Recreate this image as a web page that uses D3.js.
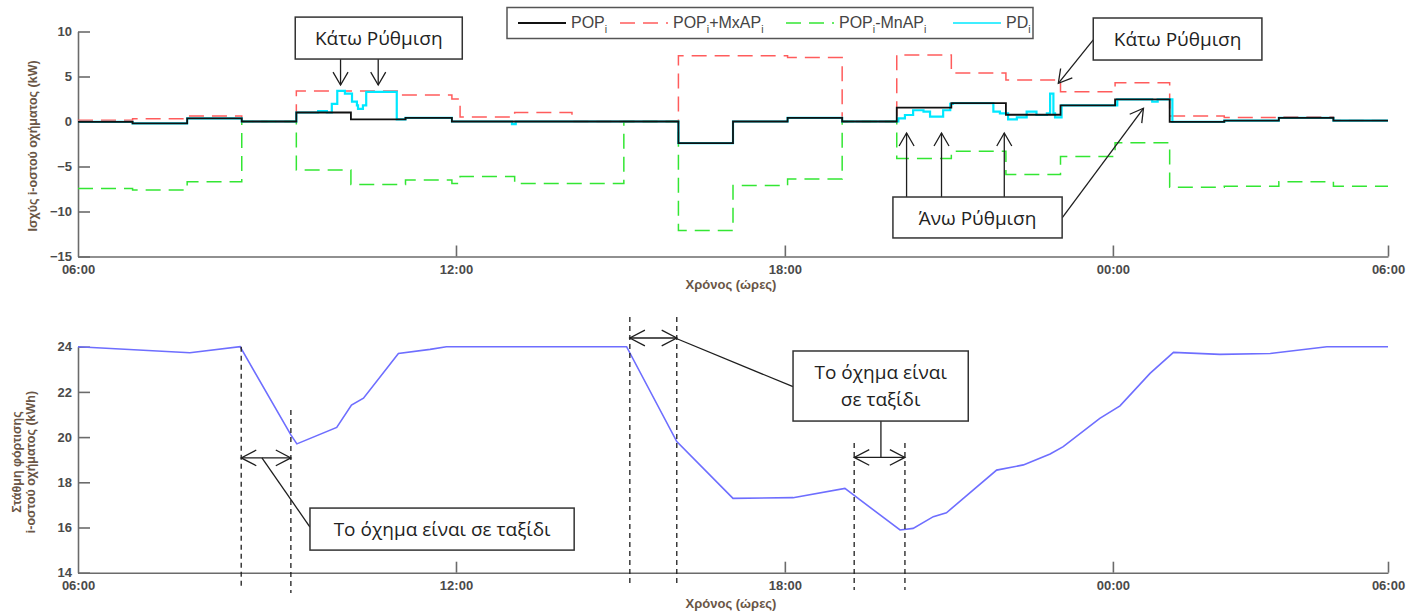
<!DOCTYPE html>
<html><head><meta charset="utf-8">
<script src="https://cdn.jsdelivr.net/npm/d3@7"></script>
<style>
html,body{margin:0;padding:0;background:#fff;}
svg{display:block;}
</style></head>
<body>
<svg id="chart" width="1426" height="615"></svg>
<script>
// ---------------- DATA ----------------
// time in hours since 06:00 (hour index on the plotted axis)
const xTickPos    = [0, 6.925, 12.95, 18.96, 24];
const xTickLabels = ["06:00", "12:00", "18:00", "00:00", "06:00"];
const yTopTicks   = [10, 5, 0, -5, -10, -15];
const yBotTicks   = [24, 22, 20, 18, 16, 14];

// POP_i (black) — step values [start hour, kW]
const popSteps = [[0,-0.05],[1,-0.2],[2,0.35],[3,0],[4,1.0],[5,0.24],[6,0.4],[6.85,0],
  [11,-2.4],[12,0],[13,0.4],[14,0],[15,1.55],[16,2.05],[17,0.75],[18,1.8],[19,2.45],
  [20,-0.05],[21,0.1],[22,0.4],[23,0.1],[24,0.1]];
// POP_i + MxAP_i (red dashed)
const maxSteps = [[0,0.15],[1,0.3],[2,0.6],[3,0],[4,3.4],[5.9,2.95],[6.85,2.5],[7,0.5],[8,1.0],
  [9.05,0],[11,7.3],[13,7.1],[14,0],[15,7.4],[16,5.4],[17,4.6],[18,3.3],[19,4.3],
  [20,0.6],[21,0.45],[22,0.5],[23,0.1],[24,0.1]];
// POP_i - MnAP_i (green dashed)
const minSteps = [[0,-7.45],[1,-7.6],[2,-6.7],[3,0],[4,-5.4],[5,-7.0],[6,-6.5],[6.85,-6.9],[7,-6.1],
  [8,-6.9],[10,0],[11,-12.1],[12,-7.1],[13,-6.4],[14,0],[15,-4.1],[16,-3.3],[17,-5.9],
  [18,-3.9],[19,-2.35],[20,-7.3],[21,-7.2],[22,-6.7],[23,-7.2],[24,-7.2]];
// PD_i (cyan)
const pdSteps = [[0,-0.05],[1,-0.2],[2,0.35],[3,0],[4,1.0],[4.4,1.15],[4.56,1.0],[4.65,1.95],
  [4.75,3.4],[4.89,3.1],[5.02,2.2],[5.11,1.8],[5.13,1.4],[5.22,1.8],[5.28,3.3],[5.84,0.24],
  [6,0.4],[6.85,0],[7.95,-0.3],[8.02,0],[11,-2.4],[12,0],[13,0.4],[14,0],
  [15.03,0.35],[15.15,0.72],[15.3,1.25],[15.49,1.1],[15.61,0.54],[15.85,1.25],[15.98,1.95],
  [16.03,2.05],[16.77,1.1],[16.89,0.9],[17.04,0.24],[17.2,0.46],[17.38,1.1],[17.56,0.72],
  [17.75,0.9],[17.81,3.1],[17.87,0.9],[17.9,0.46],[18.02,1.8],[19.04,2.45],[19.68,2.2],
  [19.78,2.45],[20.05,-0.05],[21,0.1],[22,0.4],[23,0.1],[24,0.1]];
// state of charge (kWh)
const socPoints = [[0,24.0],[2.05,23.73],[2.97,24.0],[3.9,20.1],[4.01,19.7],[4.74,20.43],
  [5.01,21.42],[5.23,21.72],[5.87,23.7],[6.45,23.88],[6.75,24.0],[10.05,24.0],[10.97,19.8],
  [12.0,17.29],[13.1,17.32],[14.05,17.73],[15.06,15.89],[15.3,15.96],[15.67,16.48],
  [15.91,16.65],[16.83,18.54],[17.32,18.77],[17.81,19.25],[18.05,19.58],[18.72,20.83],
  [19.09,21.38],[19.64,22.82],[20.07,23.75],[20.92,23.66],[21.84,23.7],[22.88,24.0],[24,24.0]];
// trips: [start, end]
const trips = [[2.99, 3.9], [10.11, 10.97], [14.22, 15.15]];

const legendNames = [["POP","i"],["POP","i","+MxAP","i"],["POP","i","-MnAP","i"],["PD","i"]];
const seriesColors = ["#111111", "#ff5c5c", "#33e633", "#00e8ff"];

// ---------------- LAYOUT ----------------
const svg = d3.select("#chart");
const x = d3.scaleLinear().domain([0, 24]).range([78, 1388]);
const yTop = d3.scaleLinear().domain([-15, 10]).range([256.5, 31.5]);
const yBot = d3.scaleLinear().domain([14, 24]).range([572.7, 346.7]);

const tickFont = "'Liberation Sans', Arial, sans-serif";
const annFont = "'Open Sans', 'Noto Sans', sans-serif";
const axisColor = "#6b6b6b";

function styleAxis(g) {
  g.select(".domain").attr("stroke", axisColor).attr("stroke-width", 1.6);
  g.selectAll(".tick line").attr("stroke", axisColor).attr("stroke-width", 1.6);
  g.selectAll(".tick text").attr("fill", "#4a4a4a").style("font-family", tickFont)
    .style("font-size", "13px").style("font-weight", "bold");
}

function drawAxes(yScale, yTicks, yAxisY) {
  const gy = svg.append("g").attr("transform", "translate(78,0)")
    .call(d3.axisLeft(yScale).tickValues(yTicks).tickSize(-12).tickSizeOuter(0).tickPadding(6));
  styleAxis(gy);
  const gx = svg.append("g").attr("transform", `translate(0,${yAxisY})`)
    .call(d3.axisBottom(x).tickValues(xTickPos).tickFormat((d, i) => xTickLabels[i])
      .tickSize(-11).tickSizeOuter(0).tickPadding(8));
  styleAxis(gx);
  gx.selectAll(".tick").filter((d, i) => i === 0).select("line").remove();
}

drawAxes(yTop, yTopTicks, yTop(-15));
drawAxes(yBot, yBotTicks, yBot(14));

const labelColor = "#6a5646";
function axisLabel(txt, px, py, rot, size) {
  svg.append("text").attr("x", px).attr("y", py).attr("text-anchor", "middle")
    .attr("transform", rot ? `rotate(-90,${px},${py})` : null)
    .style("font-family", tickFont).style("font-size", size + "px").style("font-weight", "bold")
    .attr("fill", labelColor).text(txt);
}
axisLabel("Χρόνος (ώρες)", 731, 289, false, 13);
axisLabel("Χρόνος (ώρες)", 731, 608, false, 13);
axisLabel("Ισχύς i-οστού οχήματος (kW)", 37, 146, true, 12.5);
axisLabel("Στάθμη φόρτισης", 21, 462, true, 12.5);
axisLabel("i-οστού οχήματος (kWh)", 35, 462, true, 12.5);

// ---------------- TOP SERIES ----------------
const stepLine = d3.line().x(d => x(d[0])).y(d => yTop(d[1])).curve(d3.curveStepAfter);
const gTop = svg.append("g");
gTop.append("path").datum(maxSteps).attr("d", stepLine).attr("fill", "none")
  .attr("stroke", seriesColors[1]).attr("stroke-width", 1.5).attr("stroke-dasharray", "15,8");
gTop.append("path").datum(minSteps).attr("d", stepLine).attr("fill", "none")
  .attr("stroke", seriesColors[2]).attr("stroke-width", 1.5).attr("stroke-dasharray", "15,8");
gTop.append("path").datum(pdSteps).attr("d", stepLine).attr("fill", "none")
  .attr("stroke", seriesColors[3]).attr("stroke-width", 2.2);
gTop.append("path").datum(popSteps).attr("d", stepLine).attr("fill", "none")
  .attr("stroke", seriesColors[0]).attr("stroke-width", 1.8);

// ---------------- BOTTOM SERIES ----------------
const socLine = d3.line().x(d => x(d[0])).y(d => yBot(d[1]));
svg.append("path").datum(socPoints).attr("d", socLine).attr("fill", "none")
  .attr("stroke", "#6e6eff").attr("stroke-width", 1.6);

// ---------------- LEGEND ----------------
const lg = svg.append("g");
lg.append("rect").attr("x", 507).attr("y", 7.5).attr("width", 526).attr("height", 31)
  .attr("fill", "#fff").attr("stroke", "#555").attr("stroke-width", 1.5);
const legendX = [518, 620, 786, 953];
const legendDash = [null, "15,8", "15,8", null];
legendNames.forEach((parts, i) => {
  lg.append("line").attr("x1", legendX[i]).attr("x2", legendX[i] + 48).attr("y1", 23).attr("y2", 23)
    .attr("stroke", seriesColors[i]).attr("stroke-width", i === 0 ? 2.2 : 1.5)
    .attr("stroke-dasharray", legendDash[i]);
  const t = lg.append("text").attr("x", legendX[i] + 53).attr("y", 28)
    .style("font-family", tickFont).style("font-size", "16px").attr("fill", "#444");
  parts.forEach((p, j) => {
    const sub = j % 2 === 1;
    t.append("tspan").text(p).style("font-size", sub ? "10.5px" : "16px")
      .attr("dy", sub ? 5 : (j > 0 ? -5 : 0));
  });
});

// ---------------- ANNOTATIONS ----------------
const annColor = "#1e1e1e";
function chevron(g, fx, fy, tx, ty, L, ang) {
  const a = Math.atan2(fy - ty, fx - tx);
  const p1 = [tx + L * Math.cos(a + ang), ty + L * Math.sin(a + ang)];
  const p2 = [tx + L * Math.cos(a - ang), ty + L * Math.sin(a - ang)];
  g.append("path").attr("d", `M${p1[0]},${p1[1]}L${tx},${ty}L${p2[0]},${p2[1]}`)
    .attr("fill", "none").attr("stroke", annColor).attr("stroke-width", 1.3);
}
function seg(g, x1, y1, x2, y2, dash) {
  g.append("line").attr("x1", x1).attr("y1", y1).attr("x2", x2).attr("y2", y2)
    .attr("stroke", annColor).attr("stroke-width", 1.3).attr("stroke-dasharray", dash || null);
}
function box(g, x1, y1, x2, y2, lines, cy, lh) {
  g.append("rect").attr("x", x1).attr("y", y1).attr("width", x2 - x1).attr("height", y2 - y1)
    .attr("fill", "#fff").attr("stroke", "#333").attr("stroke-width", 1.5);
  lines.forEach((ln, i) => {
    g.append("text").attr("x", (x1 + x2) / 2).attr("y", cy + i * lh).attr("text-anchor", "middle")
      .attr("dominant-baseline", "central")
      .style("font-family", annFont).style("font-size", "19px").attr("fill", "#222").text(ln);
  });
}
const ann = svg.append("g");
const A30 = Math.PI / 6;

// top: Κάτω Ρύθμιση (left)
[4.81, 5.5].forEach(h => {
  seg(ann, x(h), yTop(6.94), x(h), yTop(4.05));
  chevron(ann, x(h), yTop(6.94), x(h), yTop(4.05), 15, A30);
});
box(ann, x(3.98), yTop(11.6), x(7.04), yTop(6.94), ["Κάτω Ρύθμιση"], yTop(9.27), 0);

// top: Κάτω Ρύθμιση (right)
seg(ann, x(18.6), yTop(9.06), x(17.96), yTop(4.24));
chevron(ann, x(18.6), yTop(9.06), x(17.96), yTop(4.24), 15, A30);
box(ann, x(18.6), yTop(11.5), x(21.69), yTop(6.83), ["Κάτω Ρύθμιση"], yTop(9.17), 0);

// top: Άνω Ρύθμιση
[15.18, 15.82, 16.97].forEach(h => {
  seg(ann, x(h), yTop(-8.39), x(h), yTop(-1.28));
  chevron(ann, x(h), yTop(-8.39), x(h), yTop(-1.28), 15, A30);
});
seg(ann, x(18.03), yTop(-10.72), x(19.52), yTop(1.47));
chevron(ann, x(18.03), yTop(-10.72), x(19.52), yTop(1.47), 15, A30);
box(ann, x(14.93), yTop(-8.39), x(18.03), yTop(-12.94), ["Άνω Ρύθμιση"], yTop(-10.67), 0);

// bottom: trip markers
const tripExtents = [[[24, 13.32], [21.2, 13.1]], [[25.31, 13.37], [25.31, 13.37]], [[19.74, 13.23], [19.74, 13.23]]];
const tripArrowV = [19.08, 24.385, 19.1];
trips.forEach((tr, i) => {
  tr.forEach((h, j) => {
    seg(ann, x(h), yBot(tripExtents[i][j][0]), x(h), yBot(tripExtents[i][j][1]), "5,4");
  });
  const yy = yBot(tripArrowV[i]);
  seg(ann, x(tr[0]), yy, x(tr[1]), yy);
  chevron(ann, x(tr[1]), yy, x(tr[0]), yy, 17, 0.48);
  chevron(ann, x(tr[0]), yy, x(tr[1]), yy, 17, 0.48);
});
// leaders
seg(ann, x(4.25), yBot(16.02), x(3.37), yBot(19.08));
box(ann, x(4.25), yBot(16.86), x(9.09), yBot(15.0), ["Το όχημα είναι σε ταξίδι"], yBot(15.93), 0);
seg(ann, x(13.1), yBot(22.23), x(10.94), yBot(24.385));
seg(ann, x(14.71), yBot(20.71), x(14.71), yBot(19.1));
box(ann, x(13.1), yBot(23.81), x(16.31), yBot(20.71), ["Το όχημα είναι", "σε ταξίδι"], yBot(22.86), 27);
</script>
</body></html>
